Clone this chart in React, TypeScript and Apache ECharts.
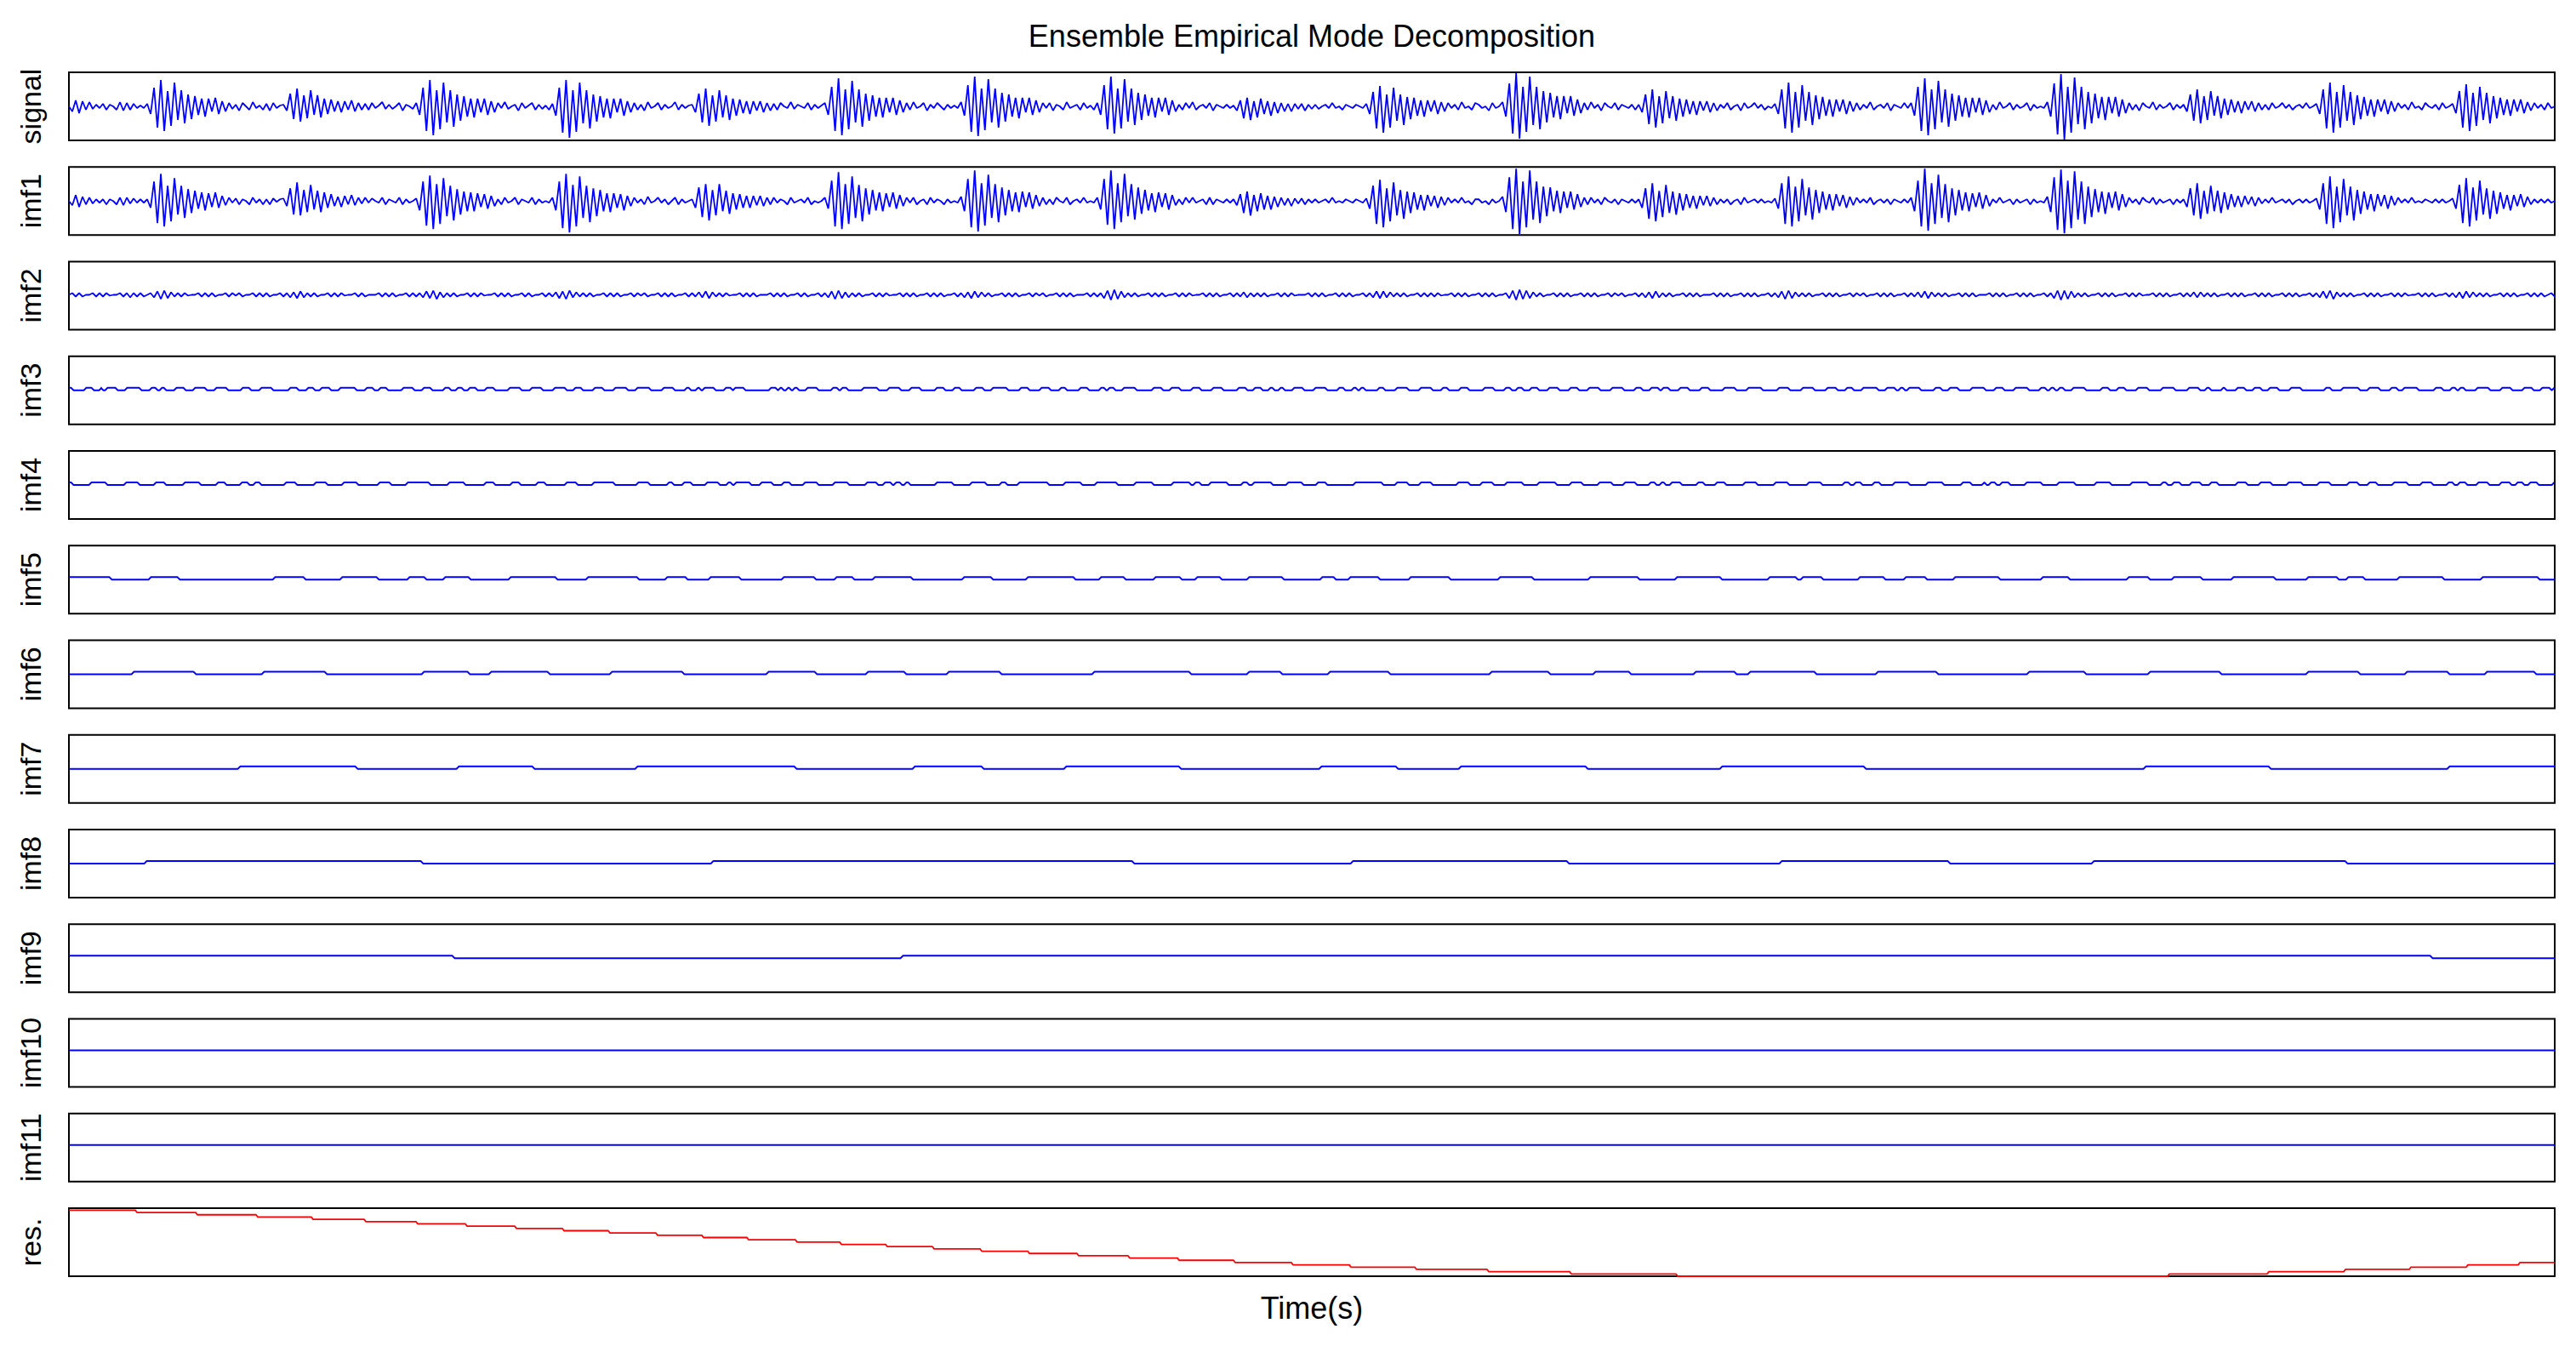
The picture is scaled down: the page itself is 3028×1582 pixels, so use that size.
import React, { useEffect, useRef } from "react";
import * as echarts from "echarts";

// time axis spans 0 .. TIME_SPAN (sample units)
const TIME_SPAN = 2922;

const panelNames = ["signal", "imf1", "imf2", "imf3", "imf4", "imf5", "imf6", "imf7", "imf8", "imf9", "imf10", "imf11", "res."];
const chartTitle = "Ensemble Empirical Mode Decomposition";
const xAxisTitle = "Time(s)";

// ---- signal (uniformly sampled) ----
const signalValues = [
  0, -6, 7, -8, 6, -4, 5, -3, 2, -2, 3, -4, 2, 0, -4, 5, -5, 4, -4, 3, -2, 1, -2,
  3, -9, 22, -25, 31, -29, 18, -23, 28, -16, 19, -20, 14, -15, 12, -10, 9, -12, 9, -6, 10, -9, 6, -6,
  4, -3, 2, -5, 4, 0, -4, 5, -2, 1, -4, 3, -5, 4, -2, 1,
  2, -5, 15, -15, 21, -18, 13, -14, 19, -10, 13, -13, 9, -9, 8, -6, 6, -7, 6, -4, 7, -6, 4, -4,
  3, -4, 4, -2, 1, 5, -3, 2, -3, 0, 4, -5, 2, 0, -3,
  4, -10, 22, -29, 31, -34, 19, -27, 28, -19, 19, -24, 14, -17, 12, -12, 9, -13, 9, -7, 9, -10, 6, -7,
  4, -2, 5, -3, 0, 2, -5, 4, -2, 1, 4, -4, 2, -3, 1, -4,
  3, -11, 22, -31, 31, -37, 19, -30, 28, -20, 19, -26, 14, -18, 12, -13, 9, -14, 9, -7, 9, -11, 6, -7,
  4, -4, 2, -5, 5, -2, 0, 4, -4, 2, -2, 0, 5, -4, 2, -2, 1,
  2, -7, 15, -19, 21, -23, 13, -18, 19, -13, 13, -16, 9, -11, 8, -8, 6, -9, 6, -5, 6, -7, 4, -5,
  3, -4, 4, 0, -2, 5, -3, 2, 0, -2, 4, -4, 2, -2, 1,
  4, -10, 23, -29, 33, -34, 20, -27, 30, -19, 20, -24, 15, -17, 13, -12, 10, -13, 10, -7, 10, -10, 7, -7,
  4, -4, 5, -2, 0, 4, -5, 2, -2, 4, 0, -4, 2, -2, 1, -2,
  5, -11, 25, -30, 35, -35, 21, -28, 32, -19, 21, -25, 16, -18, 14, -12, 10, -14, 10, -7, 10, -10, 7, -7,
  4, -2, 4, -5, 2, 0, -4, 5, -2, 0, 2, -4, 4, -2, 1, -4,
  4, -10, 25, -27, 35, -32, 21, -26, 32, -18, 21, -22, 16, -16, 14, -11, 10, -13, 10, -6, 10, -10, 7, -6,
  2, -4, 4, -2, 5, -4, 0, 2, -2, 4, -5, 2, 0, -2, 2, -2,
  1, -5, 7, -14, 10, -16, 6, -13, 9, -9, 6, -11, 5, -8, 4, -6, 3, -6, 3, -3, 3, -5, 2, -3,
  2, -3, 0, 2, -2, 4, -2, 0, -4, 2, 0, -2, 2, 0, -2,
  3, -9, 17, -26, 24, -31, 14, -25, 22, -17, 14, -22, 11, -15, 10, -11, 7, -12, 7, -6, 7, -9, 5, -6,
  4, -2, 2, -4, 5, -2, 0, -4, 4, 2, -2, 0, -5, 4, -2, 0,
  5, -12, 27, -32, 39, -38, 23, -30, 35, -22, 23, -27, 18, -19, 16, -13, 12, -15, 12, -8, 12, -11, 8, -8,
  4, -4, 5, -2, 2, -5, 4, 0, -2, 4, -4, 2, 0, -2, 2, -4,
  2, -7, 14, -21, 20, -25, 12, -20, 18, -14, 12, -17, 9, -12, 8, -9, 6, -10, 6, -5, 6, -7, 4, -5,
  2, -2, 4, -4, 0, 2, -5, 4, -2, 0, 4, -2, 2, -4, 0, -2,
  3, -9, 20, -26, 28, -31, 17, -25, 25, -17, 17, -22, 13, -15, 11, -11, 8, -12, 8, -6, 8, -9, 6, -6,
  4, -4, 2, -2, 5, -4, 0, 2, -2, 4, -5, 2, 0, -2, 4, -2,
  4, -11, 23, -29, 33, -34, 20, -27, 30, -19, 20, -24, 15, -17, 13, -12, 10, -13, 10, -7, 10, -10, 7, -7,
  2, -4, 5, -2, 0, 4, -4, 2, -2, 0, 4, -5, 2, -2, 0, -2,
  5, -12, 27, -33, 38, -39, 23, -31, 34, -21, 23, -27, 17, -20, 15, -14, 11, -16, 11, -8, 11, -12, 8, -8,
  4, -4, 2, -5, 4, 0, -2, 5, -4, 2, -2, 0, 4, -4, 2, -2,
  2, -6, 14, -17, 20, -20, 12, -16, 18, -11, 12, -14, 9, -10, 8, -7, 6, -8, 6, -4, 6, -6, 4, -4,
  2, -4, 4, -2, 0, 4, -2, 2, -4, 0, 2, -2, 4, -2, 0,
  3, -9, 20, -26, 28, -31, 17, -25, 25, -17, 17, -22, 13, -15, 11, -11, 8, -12, 8, -6, 8, -9, 6, -6,
  4, -2, 2, -4, 5, -2, 0, -4, 4, 0, -2, 2, -4, 4, -2, 0,
  3, -8, 18, -25, 26, -29, 16, -23, 23, -16, 16, -20, 12, -14, 10, -10, 8, -11, 8, -6, 8, -8, 5, -5,
  4, -2, 2, -4, 4, -2, 0,
];

// ---- imf1 (uniformly sampled) ----
const imf1Values = [
  0, -5, 7, -7, 5, -4, 4, -3, 2, -2, 2, -4, 2, 0, -4, 4, -5, 4, -3, 3, -2, 2, -2,
  2, -8, 23, -26, 32, -30, 18, -24, 27, -16, 18, -20, 14, -14, 12, -9, 10, -11, 9, -7, 10, -8, 6, -5,
  4, -2, 3, -4, 2, 0, -4, 4, -2, 2, -4, 2, -4, 3, -1, 2,
  3, -6, 15, -16, 22, -17, 13, -13, 19, -10, 12, -13, 10, -8, 8, -6, 5, -7, 6, -4, 7, -5, 4, -3,
  4, -2, 3, 0, -2, 4, -4, 2, 0, -2, 4, -4, 2, -2, 0,
  3, -11, 23, -29, 30, -33, 20, -27, 27, -18, 18, -23, 14, -16, 11, -12, 10, -12, 9, -7, 8, -9, 6, -6,
  2, -4, 4, -2, 0, 4, -4, 2, 0, -2, 4, -4, 2, -2, 0, -2,
  4, -11, 23, -32, 32, -37, 19, -30, 29, -20, 18, -25, 15, -18, 13, -12, 9, -13, 9, -8, 8, -11, 6, -6,
  4, -2, 2, -4, 5, -2, 0, 4, -2, 2, -4, 0, 4, -4, 2, -2, 0,
  2, -8, 16, -19, 20, -23, 13, -17, 20, -12, 12, -15, 9, -10, 8, -8, 6, -8, 6, -5, 6, -6, 4, -4,
  4, -2, 2, 0, -4, 4, -2, 0, 2, -2, 4, -4, 0, -2, 0,
  4, -9, 24, -30, 34, -33, 20, -27, 29, -20, 19, -24, 15, -16, 13, -11, 10, -12, 9, -7, 10, -9, 7, -6,
  4, -2, 4, -4, 0, 2, -4, 4, -2, 2, 0, -4, 2, -2, 0, -2,
  5, -12, 26, -31, 36, -36, 21, -29, 31, -20, 20, -25, 16, -17, 13, -12, 10, -13, 11, -7, 10, -9, 7, -6,
  4, -4, 2, -4, 4, 0, -2, 4, -4, 0, 2, -2, 4, -2, 0, -2,
  4, -10, 26, -28, 36, -33, 21, -25, 32, -18, 20, -22, 16, -15, 13, -11, 9, -13, 10, -7, 9, -10, 7, -5,
  2, -4, 4, -2, 4, -2, 0, 2, -4, 4, -4, 2, 0, -2, 2, -2,
  2, -5, 8, -14, 11, -17, 7, -12, 9, -10, 6, -10, 5, -7, 4, -5, 3, -6, 3, -3, 3, -4, 2, -2,
  2, -2, 0, 2, -2, 4, -2, 0, -2, 2, 0, -2, 2, 0, -2,
  3, -9, 18, -27, 25, -31, 15, -24, 22, -17, 13, -21, 11, -14, 10, -10, 7, -11, 7, -6, 6, -8, 5, -5,
  4, -2, 2, -2, 4, -2, 0, -4, 2, 2, -2, 0, -4, 2, -2, 0,
  5, -13, 28, -33, 38, -39, 23, -31, 36, -22, 23, -26, 17, -18, 16, -12, 12, -14, 11, -8, 11, -10, 8, -7,
  4, -4, 4, -2, 2, -4, 4, 0, -2, 2, -4, 2, 0, -2, 2, -2,
  2, -8, 15, -21, 21, -24, 12, -19, 19, -14, 11, -16, 9, -11, 8, -8, 6, -9, 6, -5, 6, -6, 4, -4,
  2, -2, 2, -4, 0, 2, -4, 4, -2, 0, 2, -2, 2, -2, 0, -2,
  3, -9, 21, -27, 29, -30, 17, -24, 26, -17, 16, -22, 13, -14, 11, -10, 8, -11, 8, -6, 7, -8, 5, -5,
  4, -2, 2, -2, 4, -4, 0, 2, -2, 2, -4, 2, 0, -2, 2, -2,
  4, -12, 24, -30, 38, -35, 21, -27, 31, -20, 20, -25, 15, -17, 13, -11, 10, -12, 9, -7, 10, -9, 7, -6,
  2, -2, 4, -2, 0, 2, -4, 2, -2, 0, 2, -4, 2, -2, 0, -2,
  5, -13, 28, -34, 37, -38, 24, -32, 35, -22, 23, -27, 17, -19, 14, -13, 11, -15, 10, -8, 11, -11, 8, -7,
  4, -2, 2, -4, 4, 0, -2, 4, -4, 2, -2, 0, 2, -4, 2, -2,
  2, -7, 15, -17, 21, -21, 12, -15, 18, -12, 12, -14, 10, -10, 8, -7, 6, -7, 6, -4, 5, -6, 4, -3,
  2, -2, 4, -2, 0, 2, -2, 2, -4, 0, 2, -2, 2, -2, 0,
  3, -10, 21, -27, 29, -32, 17, -25, 26, -17, 17, -23, 13, -15, 11, -10, 8, -12, 8, -6, 7, -9, 6, -5,
  4, -2, 2, -2, 4, -2, 0, -2, 2, 0, -2, 2, -2, 2, -2, 0,
  3, -9, 19, -26, 27, -30, 16, -23, 24, -16, 15, -21, 12, -15, 10, -9, 7, -11, 7, -6, 8, -7, 5, -4,
  2, -2, 2, -2, 2, -2, 0,
];

// ---- imf2 (uniformly sampled) ----
const imf2Values = [
  1, 3, -1, 3, -1, 1, 1, 3, -1, 3, -1, 3, 0, 1, 1, 3, -1, 3, -2, 3, -1, 3, -1,
  1, 3, -2, 5, -4, 6, -3, 4, -1, 3, -1, 3, 0, 1, 1, 3, -1, 3, -1, 3, -1, 1, 1, 3, -1, 3, 0, 3, -1, 1, 1, 3, -1, 3, -1, 3, -1, 1, 1, 3,
  -1, 3, -2, 4, -3, 5, -2, 3, -1, 3, -1, 1, 1, 3, -1, 3, -1, 3, 0, 1, 1, 3, -1, 3, -1, 1, 1, 1, 3, -1, 3, -1, 3, -1, 1, 1, 3, -1, 3,
  -1, 3, -2, 5, -3, 6, -4, 4, -2, 3, -1, 3, -1, 1, 1, 3, -1, 3, -1, 3, 0, 1, 1, 3, -1, 3, -1, 3, -1, 1, 1, 3, -1, 3, -1, 1, 1, 3, -1, 3,
  -1, 4, -3, 5, -4, 6, -2, 4, -1, 3, -1, 3, -1, 1, 1, 3, -1, 3, -1, 3, -1, 1, 1, 3, -1, 3, 0, 3, -1, 1, 1, 3, -1, 3, -1, 3, -1, 1, 1, 3, -1,
  3, -1, 4, -2, 5, -3, 4, -1, 3, -1, 3, 0, 1, 1, 3, -1, 3, -1, 3, -1, 1, 1, 1, 3, -1, 3, -1, 3, -1, 1, 1, 3, -1, 3, -1, 1, 1, 3, -1,
  3, -2, 5, -4, 6, -3, 4, -2, 3, -1, 3, -1, 1, 1, 3, -1, 3, -1, 3, 0, 1, 1, 3, -1, 3, -1, 3, -1, 1, 1, 3, -1, 3, -1, 3, -1, 1, 1, 3, -1,
  3, -2, 4, -3, 5, -2, 4, -1, 3, -1, 1, 1, 3, -1, 3, -1, 3, -1, 1, 1, 3, -1, 3, 0, 3, -1, 1, 1, 3, -1, 3, -1, 3, -1, 1, 1, 1, 3, -1, 3,
  -1, 3, -3, 6, -5, 7, -4, 5, -2, 3, -1, 3, -1, 1, 1, 3, -1, 3, -1, 3, -1, 1, 1, 3, -1, 3, -1, 3, 0, 1, 1, 3, -1, 3, -1, 3, -1, 1, 1, 3,
  -1, 3, -1, 4, -2, 3, -1, 3, -1, 3, -1, 1, 1, 3, -1, 3, -1, 3, 0, 1, 1, 1, 3, -1, 3, -1, 3, -1, 1, 1, 3, -1, 3, -1, 3, -1, 1, 1, 3,
  -1, 3, -2, 5, -3, 5, -2, 4, -1, 3, -1, 3, -1, 1, 1, 3, -1, 3, -1, 3, -1, 3, 0, 1, 1, 3, -1, 3, -1, 3, -1, 1, 1, 3, -1, 3, -1, 3, -1, 1,
  1, 3, -3, 6, -5, 7, -4, 6, -3, 4, -1, 3, -1, 1, 1, 3, -1, 3, -1, 3, -1, 1, 1, 3, -1, 3, -1, 3, -1, 1, 1, 3, -1, 3, 0, 3, -1, 1, 1, 3,
  -1, 3, -2, 4, -3, 5, -2, 3, -1, 3, -1, 1, 1, 3, -1, 3, -1, 3, -1, 1, 1, 1, 3, -1, 3, -1, 3, -1, 1, 1, 3, -1, 3, -1, 3, -1, 1, 1, 3, -1,
  3, -2, 5, -4, 6, -3, 4, -1, 3, -1, 3, -1, 1, 1, 3, -1, 3, -1, 3, -1, 1, 1, 3, -1, 3, 0, 3, -1, 1, 1, 3, -1, 3, -1, 3, -1, 1, 1, 3, -1,
  3, -1, 4, -2, 5, -3, 4, -1, 3, -1, 3, -1, 1, 1, 3, -1, 3, -1, 3, -1, 1, 1, 1, 3, -1, 3, -1, 3, -1, 1, 1, 3, -1, 3, -1, 3, -1, 1, 1, 3,
  -1, 3, -3, 6, -5, 6, -4, 5, -2, 3, -1, 3, -1, 1, 1, 3, -1, 3, -1, 3, -1, 1, 1, 3, -1, 3, -1, 3, 0, 1, 1, 3, -1, 3, -1, 3, -1, 1, 1, 3,
  -1, 3, -1, 4, -2, 4, -1, 3, -1, 3, -1, 1, 1, 3, -1, 3, -1, 3, -1, 1, 1, 3, -1, 3, -1, 3, -1, 1, 1, 3, -1, 3, -1, 3, -1, 1, 1, 3, -1,
  3, -2, 5, -3, 6, -4, 4, -1, 3, -1, 3, -1, 1, 1, 3, -1, 3, -1, 3, -1, 1, 1, 3, -1, 3, -1, 3, 0, 1, 1, 3, -1, 3, -1, 3, -1, 1, 1, 3, -1,
  3, -2, 4, -3, 5, -2, 4, -1, 3, -1, 3, -1, 1, 1, 3, -1, 3, -1, 3, -1, 1, 1, 3, -1, 3, -1, 3, -1, 1, 3, -1,
];

// ---- imf3 / imf4: intervals [start, end] spent on the upper level ----
const imf3Levels = [0, 3];
const imf3Humps = [
  0, 4, 19, 28, 37, 39, 44, 56, 67, 84, 96, 103, 108, 113, 125, 136, 147, 161, 172, 186, 203, 213, 225, 239,
  259, 269, 280, 288, 296, 307, 318, 337, 349, 358, 365, 374, 392, 405, 416, 426, 441, 448, 456, 463, 470, 479,
  490, 500, 517, 531, 543, 556, 570, 584, 594, 603, 617, 628, 641, 656, 667, 683, 698, 711, 725, 730, 738, 742,
  746, 759, 771, 779, 782, 794, 824, 832, 835, 839, 844, 848, 852, 857, 867, 880, 897, 904, 908, 915, 933, 951,
  963, 977, 989, 1001, 1019, 1029, 1040, 1048, 1065, 1075, 1085, 1103, 1118, 1128, 1142, 1153, 1165, 1172,
  1188, 1198, 1212, 1218, 1222, 1229, 1239, 1254, 1274, 1285, 1295, 1306, 1320, 1330, 1344, 1356, 1374, 1384,
  1393, 1402, 1411, 1416, 1423, 1428, 1439, 1451, 1464, 1478, 1492, 1499, 1509, 1514, 1518, 1523, 1539, 1546,
  1560, 1574, 1588, 1602, 1614, 1621, 1635, 1645, 1663, 1675, 1688, 1695, 1702, 1709, 1718, 1727, 1739, 1751,
  1764, 1774, 1786, 1799, 1813, 1827, 1841, 1849, 1859, 1869, 1873, 1881, 1893, 1904, 1918, 1928, 1945, 1959,
  1973, 1990, 2009, 2022, 2037, 2051, 2066, 2078, 2089, 2097, 2108, 2126, 2136, 2147, 2152, 2157, 2162, 2176,
  2193, 2201, 2210, 2221, 2236, 2252, 2264, 2274, 2287, 2303, 2317, 2324, 2329, 2334, 2339, 2345, 2355, 2370,
  2389, 2398, 2408, 2417, 2431, 2444, 2460, 2475, 2491, 2504, 2512, 2517, 2531, 2535, 2548, 2558, 2568, 2577,
  2586, 2597, 2611, 2624, 2652, 2659, 2672, 2692, 2703, 2716, 2729, 2737, 2744, 2761, 2781, 2790, 2800, 2806,
  2810, 2816, 2830, 2845, 2859, 2871, 2885, 2896, 2906, 2917, 2920, 2922,
];
const imf4Levels = [0, 3];
const imf4Humps = [
  0, 4, 25, 44, 66, 82, 101, 113, 135, 154, 174, 184, 202, 211, 218, 225, 254, 267, 289, 303, 322, 339, 364, 378,
  397, 424, 446, 465, 489, 500, 520, 530, 550, 560, 584, 597, 616, 641, 668, 682, 704, 710, 722, 732, 749, 764,
  774, 779, 783, 801, 813, 827, 839, 848, 864, 880, 899, 916, 937, 950, 958, 967, 971, 978, 983, 988, 1019, 1039,
  1060, 1078, 1095, 1102, 1116, 1151, 1170, 1190, 1207, 1232, 1253, 1274, 1297, 1318, 1323, 1330, 1341, 1362,
  1379, 1386, 1392, 1414, 1432, 1450, 1467, 1478, 1511, 1544, 1560, 1574, 1588, 1602, 1632, 1646, 1660, 1674,
  1689, 1709, 1727, 1748, 1765, 1779, 1798, 1814, 1828, 1842, 1858, 1865, 1871, 1876, 1883, 1895, 1914, 1922,
  1936, 1947, 1969, 1984, 2005, 2021, 2044, 2060, 2086, 2093, 2099, 2107, 2121, 2129, 2145, 2163, 2184, 2203,
  2225, 2236, 2250, 2253, 2258, 2265, 2271, 2281, 2300, 2319, 2338, 2358, 2382, 2400, 2424, 2444, 2460, 2466,
  2473, 2482, 2494, 2506, 2517, 2526, 2548, 2560, 2575, 2589, 2608, 2625, 2644, 2658, 2679, 2691, 2703, 2713,
  2732, 2749, 2765, 2778, 2796, 2803, 2809, 2818, 2831, 2844, 2858, 2870, 2877, 2885, 2892, 2902, 2920, 2922,
];

// ---- imf5..imf9: times at which the two-level component switches ----
const imf5Levels = [0, 3];
const imf5StartsHigh = true;
const imf5Flips = [
  49, 95, 129, 241, 277, 320, 363, 399, 419, 441, 471, 518, 573, 609, 669, 702, 726, 753, 789, 839, 877, 901,
  922, 946, 991, 1051, 1085, 1126, 1182, 1212, 1241, 1276, 1307, 1325, 1354, 1386, 1427, 1472, 1488, 1505,
  1540, 1576, 1623, 1681, 1721, 1787, 1845, 1889, 1942, 1998, 2031, 2037, 2061, 2104, 2134, 2158, 2183, 2216,
  2269, 2319, 2351, 2420, 2445, 2473, 2507, 2543, 2593, 2631, 2667, 2678, 2698, 2738, 2791, 2836, 2903,
];
const imf6Levels = [0, 3];
const imf6StartsHigh = false;
const imf6Flips = [
  75, 148, 228, 302, 416, 470, 495, 564, 637, 722, 821, 878, 938, 983, 1033, 1095, 1204, 1318, 1386, 1425,
  1481, 1552, 1671, 1740, 1793, 1835, 1911, 1959, 1975, 2053, 2125, 2196, 2303, 2370, 2445, 2529, 2631, 2692,
  2747, 2797, 2841, 2899,
];
const imf7Levels = [0, 3];
const imf7StartsHigh = false;
const imf7Flips = [200, 338, 457, 546, 667, 854, 993, 1074, 1171, 1306, 1471, 1561, 1635, 1784, 1942, 2111, 2440, 2587, 2797];
const imf8Levels = [0, 3];
const imf8StartsHigh = false;
const imf8Flips = [90, 415, 756, 1251, 1508, 1762, 2012, 2210, 2379, 2677];
const imf9Levels = [0, 3];
const imf9StartsHigh = true;
const imf9Flips = [452, 979, 2777];

// ---- imf10, imf11: constant ----
const imf10Values = [3, 3];
const imf11Values = [3, 3];

// ---- residue: staircase (start time of each level, value) ----
const resBreaks = [
  0, 79, 150, 221, 286, 348, 409, 467, 525, 581, 635, 691, 745, 798, 855, 907, 961, 1016, 1072, 1128, 1186,
  1246, 1304, 1370, 1438, 1506, 1583, 1668, 1765, 1890, 2468, 2585, 2675, 2752, 2819, 2880,
];
const resValues = [
  2.9, 2.8, 2.7, 2.6, 2.5, 2.4, 2.3, 2.2, 2.1, 2.0, 1.9, 1.8, 1.7, 1.6, 1.5, 1.4, 1.3, 1.2, 1.1, 1.0, 0.9,
  0.8, 0.7, 0.6, 0.5, 0.4, 0.3, 0.2, 0.1, 0.0, 0.1, 0.2, 0.3, 0.4, 0.5, 0.6,
];

// ---------- builders ----------
function sampledSeries(values: number[]): number[][] {
  const dt = TIME_SPAN / (values.length - 1);
  return values.map((v, i) => [i * dt, v]);
}

const RAMP = 1.5;

function flipSeries(flips: number[], startsHigh: boolean, levels: number[]): number[][] {
  const [lo, hi] = levels;
  let lvl = startsHigh ? hi : lo;
  const pts: number[][] = [[0, lvl]];
  for (const f of flips) {
    pts.push([f - RAMP, lvl]);
    lvl = lvl === hi ? lo : hi;
    pts.push([f + RAMP, lvl]);
  }
  pts.push([TIME_SPAN, lvl]);
  return pts;
}

function humpSeries(humps: number[], levels: number[]): number[][] {
  const [lo, hi] = levels;
  const pts: number[][] = [];
  if (humps[0] > 0) pts.push([0, lo]);
  let endsHigh = false;
  for (let k = 0; k < humps.length; k += 2) {
    const a = humps[k];
    const b = humps[k + 1];
    if (a <= 0) pts.push([0, hi]);
    else {
      pts.push([a - RAMP, lo]);
      pts.push([a + RAMP, hi]);
    }
    if (b >= TIME_SPAN) {
      pts.push([TIME_SPAN, hi]);
      endsHigh = true;
    } else {
      pts.push([b - RAMP, hi]);
      pts.push([b + RAMP, lo]);
    }
  }
  if (!endsHigh) pts.push([TIME_SPAN, lo]);
  return pts;
}

function stairSeries(breaks: number[], values: number[]): number[][] {
  const pts: number[][] = [];
  for (let k = 0; k < breaks.length; k++) {
    const s = k === 0 ? 0 : breaks[k] + 1;
    const e = k === breaks.length - 1 ? TIME_SPAN : breaks[k + 1] - 1;
    pts.push([s, values[k]]);
    pts.push([e, values[k]]);
  }
  return pts;
}

const FONT = "'Liberation Sans', Arial, Helvetica, sans-serif";

export default function App() {
  const ref = useRef<HTMLDivElement>(null);

  useEffect(() => {
    document.body.style.margin = "0";
    const chart = echarts.init(ref.current as HTMLDivElement, null, { renderer: "svg" });

    const panelData = [
      sampledSeries(signalValues),
      sampledSeries(imf1Values),
      sampledSeries(imf2Values),
      humpSeries(imf3Humps, imf3Levels),
      humpSeries(imf4Humps, imf4Levels),
      flipSeries(imf5Flips, imf5StartsHigh, imf5Levels),
      flipSeries(imf6Flips, imf6StartsHigh, imf6Levels),
      flipSeries(imf7Flips, imf7StartsHigh, imf7Levels),
      flipSeries(imf8Flips, imf8StartsHigh, imf8Levels),
      flipSeries(imf9Flips, imf9StartsHigh, imf9Levels),
      sampledSeries(imf10Values),
      sampledSeries(imf11Values),
      stairSeries(resBreaks, resValues),
    ];

    const left = 81;
    const width = 2922;
    const top0 = 85;
    const pitch = 111.25;
    const height = 80;
    const last = panelData.length - 1;

    const grids = panelData.map((_, i) => ({
      left,
      width,
      top: top0 + i * pitch,
      height,
      show: true,
      borderColor: "#000",
      borderWidth: 2,
      backgroundColor: "transparent",
      containLabel: false,
    }));
    const xAxes = panelData.map((_, i) => ({
      type: "value",
      gridIndex: i,
      min: 0,
      max: TIME_SPAN,
      show: false,
    }));
    const yAxes = panelData.map((_, i) =>
      i === last
        ? { type: "value", gridIndex: i, min: 0, max: 2.99, show: false }
        : { type: "value", gridIndex: i, min: -40, max: 40, show: false }
    );
    const series = panelData.map((d, i) => ({
      name: panelNames[i],
      type: "line",
      xAxisIndex: i,
      yAxisIndex: i,
      data: d,
      showSymbol: false,
      symbol: "none",
      silent: true,
      lineStyle: { color: i === last ? "#ff0000" : "#0000ff", width: 1.8 },
      itemStyle: { color: i === last ? "#ff0000" : "#0000ff" },
    }));

    const graphics: any[] = [
      {
        type: "text",
        x: left + width / 2,
        y: 42,
        style: {
          text: chartTitle,
          fill: "#000",
          fontSize: 36,
          fontFamily: FONT,
          textAlign: "center",
          textVerticalAlign: "middle",
        },
      },
      {
        type: "text",
        x: left + width / 2,
        y: 1537,
        style: {
          text: xAxisTitle,
          fill: "#000",
          fontSize: 36,
          fontFamily: FONT,
          textAlign: "center",
          textVerticalAlign: "middle",
        },
      },
      ...panelNames.map((name, i) => ({
        type: "text",
        x: 36,
        y: top0 + i * pitch + height / 2,
        rotation: Math.PI / 2,
        style: {
          text: name,
          fill: "#000",
          fontSize: 34,
          fontFamily: FONT,
          textAlign: "center",
          textVerticalAlign: "middle",
        },
      })),
    ];

    chart.setOption({
      animation: false,
      backgroundColor: "#fff",
      grid: grids,
      xAxis: xAxes,
      yAxis: yAxes,
      series,
      graphic: graphics,
    });

    return () => chart.dispose();
  }, []);

  return <div ref={ref} style={{ width: 3028, height: 1582 }} />;
}
